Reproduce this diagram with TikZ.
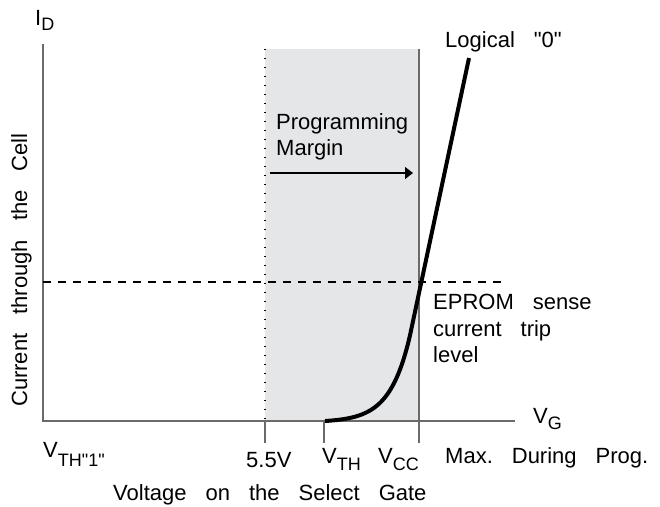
\documentclass[tikz,border=0pt]{standalone}
\usepackage{fontspec}
\setmainfont{Liberation Sans}[Ligatures=TeXOff]
\usetikzlibrary{arrows.meta}
\definecolor{margingray}{HTML}{E5E6E8}
\definecolor{axisgray}{HTML}{6A6A6A}
\newcommand{\gp}{\hspace{19pt}}
\newcommand{\lsub}[2][7pt]{\raisebox{-#1}{\fontsize{18}{18}\selectfont #2}}
\tikzset{
  lbl/.style={inner sep=0pt, anchor=base west, font=\fontsize{22}{26}\selectfont},
  mlbl/.style={inner sep=0pt, anchor=north west, align=left, font=\fontsize{22}{26.3}\selectfont},
  axisline/.style={draw=axisgray, line width=1.5pt},
}
\begin{document}
\begin{tikzpicture}[x=1pt,y=-1pt]
\useasboundingbox (0,0) rectangle (660,506);
% coordinates
\coordinate (ytop) at (43,44);
\coordinate (orig) at (43,421);
\coordinate (xend) at (515,421);
\coordinate (m55t) at (265,49);
\coordinate (m55b) at (265,421);
\coordinate (m55k) at (265,443);
\coordinate (vcct) at (419,49);
\coordinate (vccb) at (419,421);
\coordinate (vcck) at (419,443);
\coordinate (vtha) at (324,421);
\coordinate (vthk) at (324,443);
\coordinate (dashl) at (43,282);
\coordinate (dashr) at (507,282);
\coordinate (arrs) at (270,173);
\coordinate (arre) at (413,173);
\coordinate (c3) at (469,58);
% shaded margin
\fill[margingray] (m55t) rectangle (vccb);
% dotted 5.5V line
\draw[black, line width=1.4pt, dash pattern=on 1.3pt off 7.7pt] (m55t) -- (m55b);
% Vcc line
\draw[axisline] (vcct) -- (vcck);
% ticks
\draw[axisline] (m55b) -- (m55k);
\draw[axisline] (vtha) -- (vthk);
% axes
\draw[axisline] (ytop) -- (orig) -- (xend);
% trip level
\draw[black, line width=1.5pt, dash pattern=on 8pt off 7pt] (dashl) -- (dashr);
% arrow
\draw[black, line width=1.2pt, -{Triangle[length=8pt,width=12pt]}] (arrs) -- (arre);
% curve
\draw[black, line width=4pt, line join=round]
  plot[domain=325:410, samples=60, variable=\t] ({\t},{421-1.24*(exp(0.05*(\t-325))-1)}) -- (c3);
% labels
\node[lbl] (id) at (35,25) {I\lsub[5pt]{D}};
\node[lbl] (log) at (445,47) {Logical\gp"0"};
\node[mlbl] (pm) at (276,113.2) {Programming\\Margin};
\node[mlbl] (ep) at (433,294.2) {EPROM\gp sense\\current\gp trip\\level};
\node[lbl] (vg) at (533,423) {V\lsub[6pt]{G}};
\node[lbl] (vth1) at (43,457) {V\lsub[9pt]{TH"1"}};
\node[lbl] (l55) at (246,467) {5.5V};
\node[lbl] (vth) at (322,463) {V\lsub{TH}};
\node[lbl] (vcc) at (378,463) {V\lsub{CC}};
\node[lbl] (max) at (445,463) {Max.\gp During\gp Prog.};
\node[lbl] (xlab) at (113,500) {Voltage\gp on\gp the\gp Select\gp Gate};
\node[lbl, rotate=90] (ylab) at (27,407) {Current\gp through\gp the\gp Cell};
\end{tikzpicture}
\end{document}
